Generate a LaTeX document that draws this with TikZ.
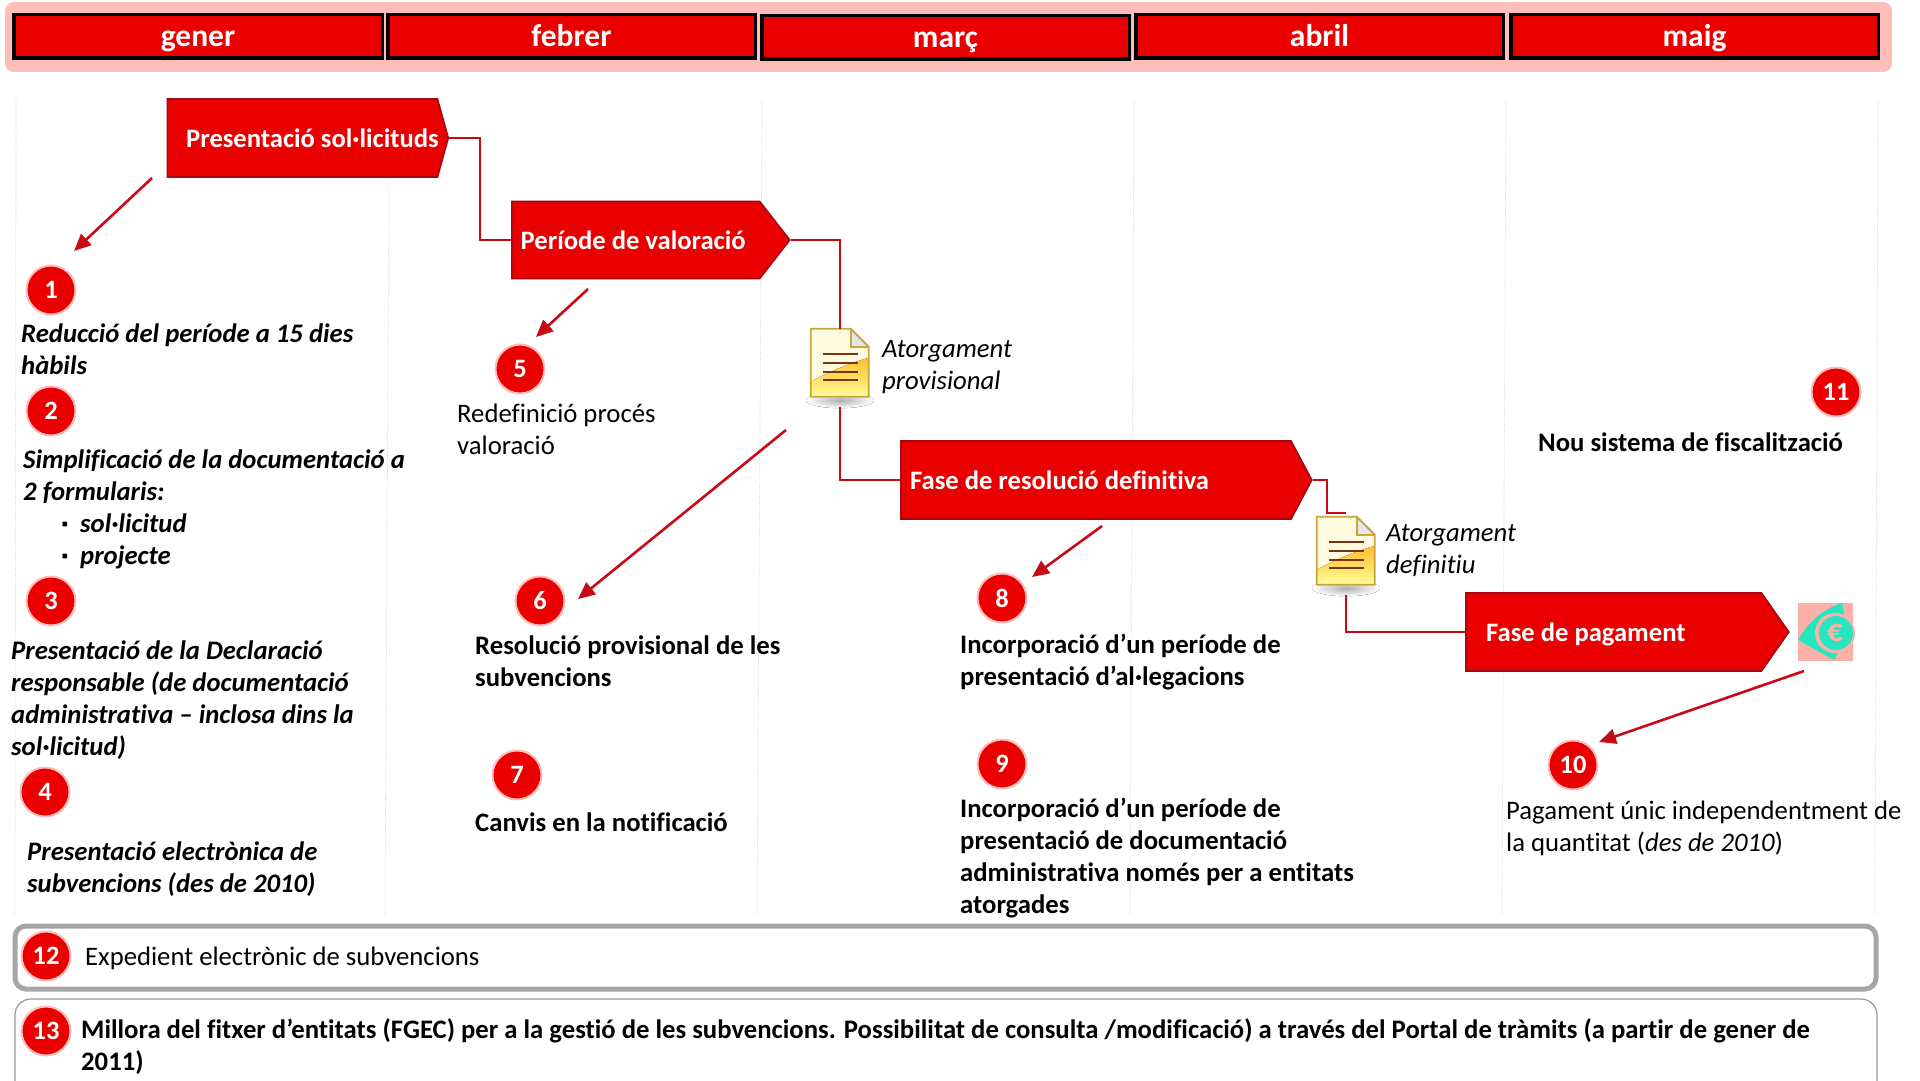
\documentclass[tikz,border=0pt]{standalone}
\usepackage{fontspec}
\setmainfont{Carlito}[Ligatures=NoCommon]
\usetikzlibrary{arrows.meta,shapes.symbols,calc}
\definecolor{bandpink}{HTML}{FFBDBA}
\definecolor{mainred}{HTML}{EA0000}
\definecolor{darkred}{HTML}{A00A14}
\definecolor{linkred}{HTML}{C80A14}
\definecolor{guide}{HTML}{DCDCDC}
\definecolor{docgold}{HTML}{C8A63C}
\definecolor{docline}{HTML}{7A3214}
\definecolor{iconbg}{HTML}{FDB0A8}
\definecolor{iconfg}{HTML}{25E6BE}
\definecolor{doccream}{HTML}{FFFBE0}
\definecolor{docorange}{HTML}{FFC030}
\definecolor{docyellow}{HTML}{FFFF99}
\tikzset{
 x=1pt,y=-1pt,
 month/.style={draw=black,line width=3.5pt,fill=mainred,text=white,font=\fontsize{31.5}{36}\bfseries\selectfont,inner sep=0pt,minimum height=43.5pt,text height=24pt,text depth=3pt},
 phase/.style={shape=signal,signal to=east,draw=darkred,line width=1.6pt,fill=mainred,inner sep=0pt,anchor=west},
 phasetext/.style={text=white,font=\fontsize{26.6}{30}\bfseries\selectfont,anchor=west,inner sep=0pt},
 link/.style={draw=linkred,line width=2pt},
 callout/.style={draw=linkred,line width=2.6pt,-{Triangle[length=17pt,width=15pt]}},
 badge/.style={circle,fill=mainred,draw=bandpink,line width=2pt,minimum size=49pt,inner sep=0pt,text=white,font=\fontsize{26.5}{30}\bfseries\selectfont},
 note/.style={anchor=north west,align=left,inner sep=0pt,yshift=-6.5pt,font=\fontsize{26.7}{32}\selectfont},
 bnote/.style={note,font=\fontsize{26.7}{32}\bfseries\selectfont},
 inote/.style={note,font=\fontsize{26.7}{32}\itshape\selectfont},
 binote/.style={note,font=\fontsize{26.7}{32}\bfseries\itshape\selectfont},
 guideline/.style={draw=guide,line width=0.8pt,densely dotted},
 docanchor/.style={rectangle,inner sep=0pt,minimum width=58pt,minimum height=68pt},
}
\newcommand{\docicon}[1]{%
 \fill[shade,inner color=black!32,outer color=white] ($(#1.south)+(0,3)$) ellipse [x radius=34,y radius=8];
 \begin{scope}[shift={(#1.north west)}]
  \fill[doccream] (0,0) -- (40,0) -- (58,18) -- (58,68) -- (0,68) -- cycle;
  \fill[top color=docorange,bottom color=docyellow,middle color=docorange!55!docyellow] (0,53) .. controls (20,42) and (40,34) .. (58,29) -- (58,68) -- (0,68) -- cycle;
  \fill[black!10] (40,0) -- (58,18) -- (40,18) -- cycle;
  \draw[docgold,line width=1.8pt,line join=round] (0,0) -- (40,0) -- (58,18) -- (58,68) -- (0,68) -- cycle;
  \draw[docgold,line width=1.5pt] (40,0) -- (40,18) -- (58,18);
  \foreach \yy in {25,34,43,51} \draw[docline,line width=1.7pt] (12,\yy) -- (47,\yy);
 \end{scope}}
\begin{document}
\begin{tikzpicture}
\useasboundingbox (0,0) rectangle (1920,1081);
\fill[white] (0,0) rectangle (1920,1081);
% month band
\fill[bandpink,rounded corners=9pt] (5,2) rectangle (1892,72);
\node[month,minimum width=368.5pt] (m1) at (198,36.5) {gener};
\node[month,minimum width=367.5pt] (m2) at (571.5,36.5) {febrer};
\node[month,minimum width=367.5pt] (m3) at (945.5,37.5) {març};
\node[month,minimum width=367.5pt] (m4) at (1319.5,36.5) {abril};
\node[month,minimum width=367.5pt] (m5) at (1694.5,36.5) {maig};
% guides
\draw[guideline] (16,100) -- (15,915);
\draw[guideline] (389,178) -- (385,915);
\draw[guideline] (762,100) -- (757,915);
\draw[guideline] (1134,100) -- (1130,915);
\draw[guideline] (1506,100) -- (1502,915);
\draw[guideline] (1878,100) -- (1875,915);
% phases
\node[phase,minimum width=281pt,minimum height=78pt,signal pointer angle=149] (p1) at (166.5,138) {};
\node[phasetext] (p1t) at (186,138) {Presentació sol·licituds};
\node[phase,minimum width=278pt,minimum height=77pt,signal pointer angle=104] (p2) at (511,240) {};
\node[phasetext] (p2t) at (520.5,240) {Període de valoració};
\node[phase,minimum width=411pt,minimum height=78pt,signal pointer angle=124] (p3) at (900,480) {};
\node[phasetext] (p3t) at (910,480) {Fase de resolució definitiva};
\node[phase,minimum width=323pt,minimum height=78pt,signal pointer angle=110] (p4) at (1465,632) {};
\node[phasetext] (p4t) at (1486,634) {Fase de pagament};
% documents
\node[docanchor] (d1) at (840,363) {};
\node[docanchor] (d2) at (1346,551) {};
\docicon{d1}
\docicon{d2}
\node[inote] (d1t) at (882,334) {Atorgament\\provisional};
\node[inote] (d2t) at (1386,518) {Atorgament\\definitiu};
% icon
\node[rectangle,fill=iconbg,minimum width=55pt,minimum height=58pt,inner sep=0pt] (eur) at (1825.5,632) {};
\fill[iconfg] (1798,640) .. controls (1810,619) and (1826,608) .. (1842,603) -- (1844,613) -- (1836,633) -- (1838,653) -- (1834,660) -- cycle;
\fill[iconbg] (1835,633) circle [radius=20];
\fill[iconfg] (1836,633) circle [radius=17];
\node[text=iconbg,font=\fontsize{32}{32}\bfseries\selectfont,inner sep=0pt] (eurt) at (1835,633) {€};
% connectors
\coordinate (j1) at (480,138);
\coordinate (j2) at (840,240);
\coordinate (j3) at (840,407);
\coordinate (j4) at (1327,480);
\coordinate (j5) at (1346,513);
\coordinate (j6) at (1346,595);
\draw[link] (p1.east) -- (j1) |- (p2.west);
\draw[link] (p2.east) -- (j2) -- (j2 |- d1.north);
\draw[link] (j3) |- (p3.west);
\draw[link] (p3.east) -- (j4) |- (j5);
\draw[link] (j6) |- (p4.west);
% badges
\node[badge] (b1) at (51,290) {1};
\node[badge] (b2) at (51,411) {2};
\node[badge] (b3) at (51,601) {3};
\node[badge] (b4) at (45,792) {4};
\node[badge] (b5) at (520,369) {5};
\node[badge] (b6) at (540,601) {6};
\node[badge] (b7) at (517,775) {7};
\node[badge] (b8) at (1002,598) {8};
\node[badge] (b9) at (1002,764) {9};
\node[badge] (b10) at (1573,765) {10};
\node[badge] (b11) at (1836,392) {11};
% callouts
\coordinate (c1) at (152,178); \coordinate (c1e) at (74,251);
\coordinate (c2) at (588,289); \coordinate (c2e) at (536,337);
\coordinate (c3) at (786,430); \coordinate (c3e) at (578,599);
\coordinate (c4) at (1102,526); \coordinate (c4e) at (1032,577);
\coordinate (c5) at (1804,671); \coordinate (c5e) at (1599,742);
\draw[callout] (c1) -- (c1e);
\draw[callout] (c2) -- (c2e);
\draw[callout] (c3) -- (c3e);
\draw[callout] (c4) -- (c4e);
\draw[callout] (c5) -- (c5e);
% notes
\node[binote] (t1) at (21,317) {Reducció del període a 15 dies\\hàbils};
\node[binote] (t2) at (23,443) {Simplificació de la documentació a\\2 formularis:};
\node[binote] (t2a) at (80,507) {sol·licitud\\projecte};
\node[font=\fontsize{16}{16}\bfseries\selectfont,inner sep=0pt] (t2b1) at (65,526) {▪};
\node[font=\fontsize{16}{16}\bfseries\selectfont,inner sep=0pt] (t2b2) at (65,558) {▪};
\node[binote] (t3) at (11,634) {Presentació de la Declaració\\responsable (de documentació\\administrativa – inclosa dins la\\sol·licitud)};
\node[binote] (t4) at (27,835) {Presentació electrònica de\\subvencions (des de 2010)};
\node[note] (t5) at (457,397) {Redefinició procés\\valoració};
\node[bnote] (t6) at (475,629) {Resolució provisional de les\\subvencions};
\node[bnote] (t7) at (475,806) {Canvis en la notificació};
\node[bnote] (t8) at (960,627) {Incorporació d’un període de\\presentació d’al·legacions};
\node[bnote] (t9) at (960,791) {Incorporació d’un període de\\presentació de documentació\\administrativa només per a entitats\\atorgades};
\node[note] (t10) at (1506,794) {Pagament únic independentment de\\la quantitat (\textit{des de 2010})};
\node[bnote] (t11) at (1538,426) {Nou sistema de fiscalització};
% bottom boxes
\draw[draw=black!35,line width=5pt,rounded corners=11pt,fill=white] (15,926) rectangle (1876,989);
\draw[draw=black!40,line width=1.2pt,rounded corners=16pt,fill=white] (15,999) rectangle (1877,1100);
\node[badge] (b12) at (46,956) {12};
\node[badge] (b13) at (46,1031) {13};
\node[note] (t12) at (85,940) {Expedient electrònic de subvencions};
\node[bnote] (t13) at (81,1012) {Millora del fitxer d’entitats (FGEC) per a la gestió de les subvencions. Possibilitat de consulta /modificació) a través del Portal de tràmits (a partir de gener de\\2011)};
\end{tikzpicture}
\end{document}
